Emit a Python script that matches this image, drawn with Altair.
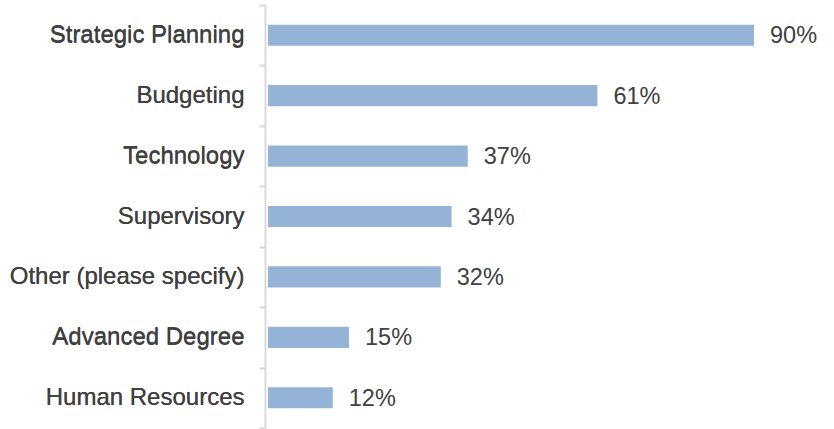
import altair as alt
import pandas as pd

categories = ["Strategic Planning", "Budgeting", "Technology", "Supervisory",
              "Other (please specify)", "Advanced Degree", "Human Resources"]
values = [90, 61, 37, 34, 32, 15, 12]
labels = ["90%", "61%", "37%", "34%", "32%", "15%", "12%"]
boundaries = list(range(len(categories) + 1))

df = pd.DataFrame({"cat": categories, "val": values, "lab": labels})
bdf = pd.DataFrame({"b": boundaries})

FONT = "Liberation Sans"
TXT = "#404040"
GRID = "#d9d9d9"

y_band = alt.Y("cat:N", sort=categories, title=None,
               scale=alt.Scale(paddingInner=0.65, paddingOuter=0.325),
               axis=alt.Axis(orient="left", ticks=False, tickSize=0, domain=False,
                             labelPadding=21, offset=3, labelFont=FONT,
                             labelFontSize=24, labelFontWeight="normal",
                             labelColor=TXT, labelLimit=400))
x_enc = alt.X("val:Q", scale=alt.Scale(domain=[0, 100]), axis=None)

bars = alt.Chart(df).mark_bar(color="#95B3D7").encode(x=x_enc, y=y_band)
text = alt.Chart(df).mark_text(align="left", dx=16, dy=1, font=FONT, fontSize=23.5,
                               fontWeight="normal",
                               color=TXT).encode(x=x_enc, y=y_band, text="lab:N")

ticks = alt.Chart(bdf).mark_point(opacity=0).encode(
    y=alt.Y("b:Q", title=None,
            scale=alt.Scale(domain=[0, len(categories)], nice=False, zero=False),
            axis=alt.Axis(orient="left", values=boundaries, labels=False, grid=False,
                          tickSize=6, tickWidth=2, tickColor=GRID,
                          domainColor=GRID, domainWidth=2, offset=3))
)

chart = alt.layer(bars, text, ticks).resolve_scale(y="independent").properties(
    width=540, height=423,
    autosize=alt.AutoSizeParams(type="none"),
    padding={"left": 268, "top": 5, "right": 26, "bottom": 1},
).configure_view(stroke=None)

chart.save("out.html", embed_options={"renderer": "svg", "actions": False})
